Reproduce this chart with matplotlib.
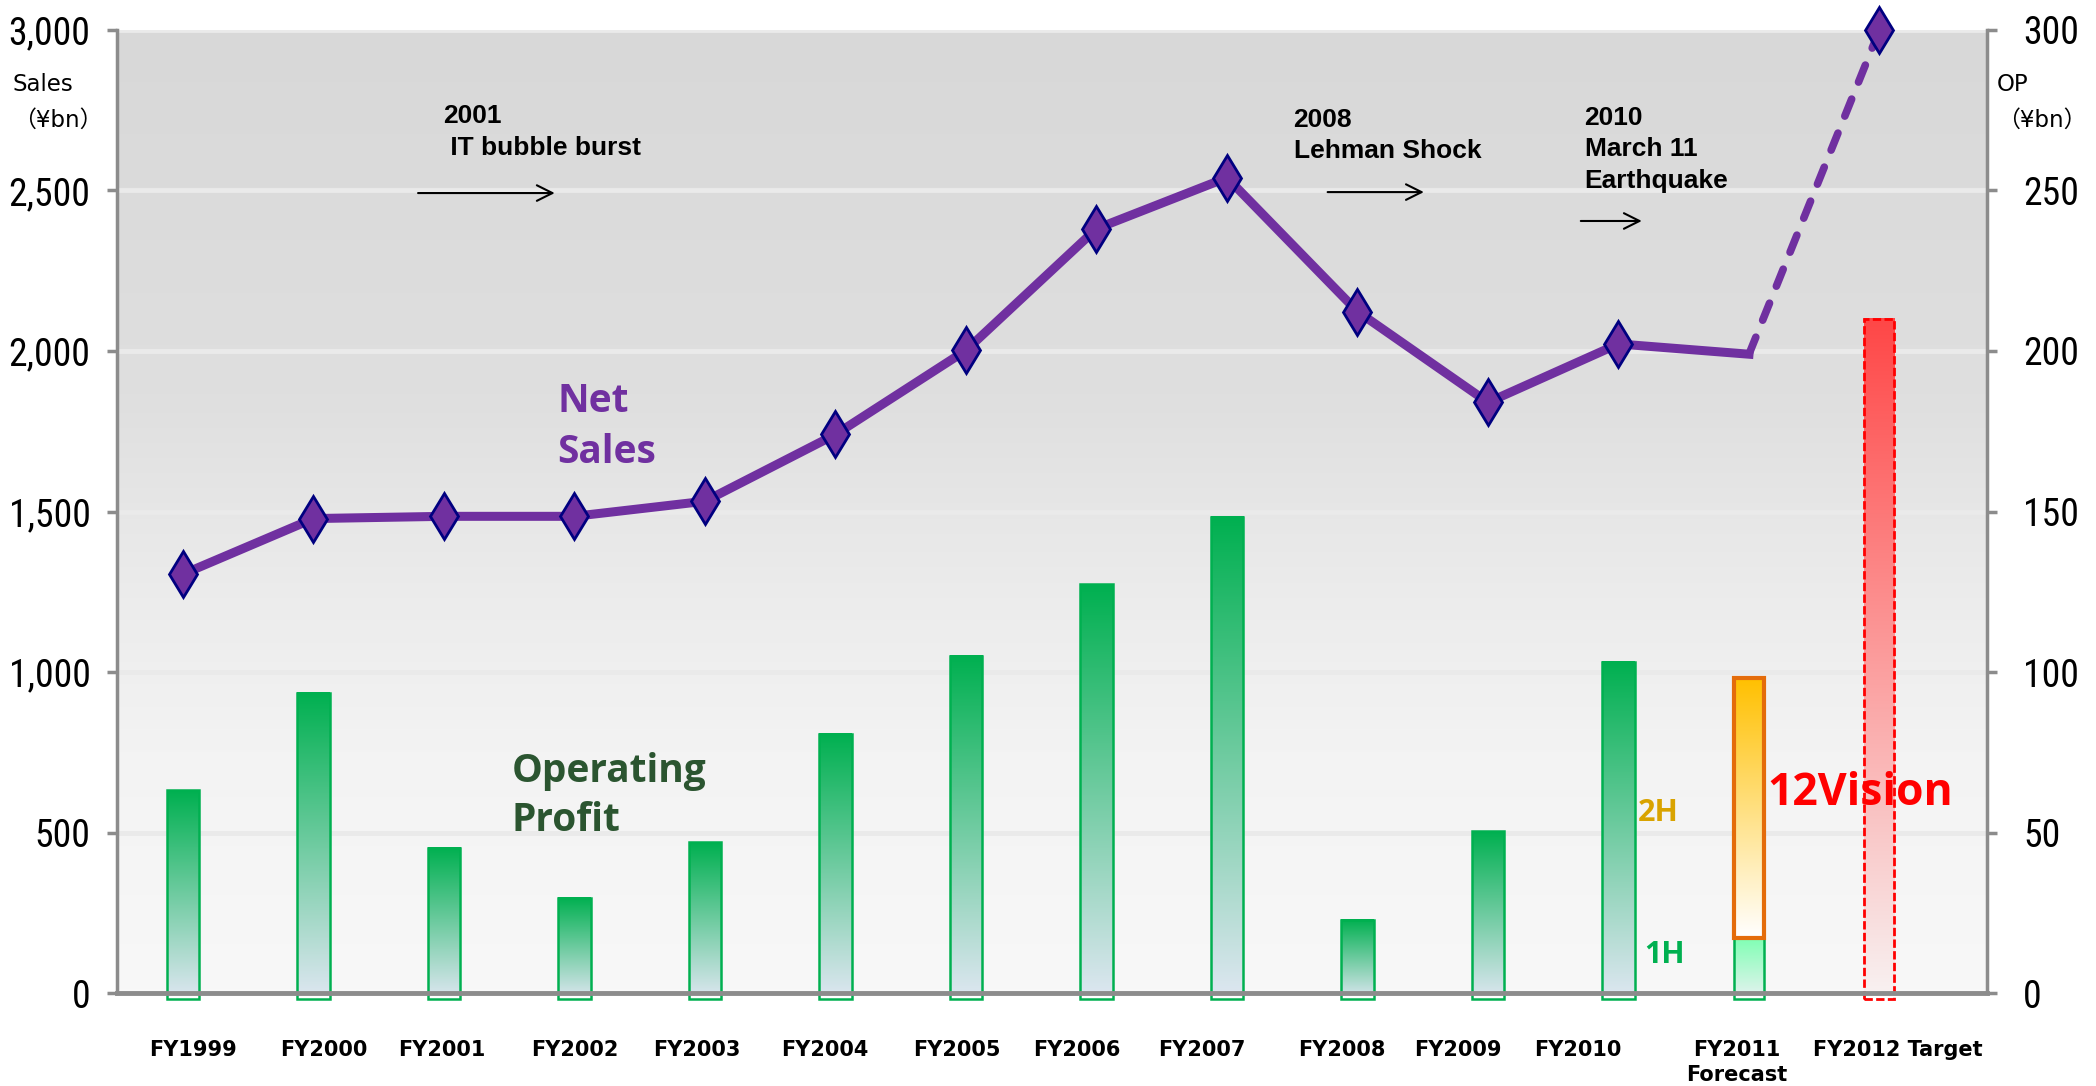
import numpy as np
import matplotlib.pyplot as plt
from matplotlib import font_manager as fm
from matplotlib.colors import LinearSegmentedColormap

years = ["FY1999", "FY2000", "FY2001", "FY2002", "FY2003", "FY2004", "FY2005",
         "FY2006", "FY2007", "FY2008", "FY2009", "FY2010", "FY2011\nForecast",
         "FY2012 Target"]
net_sales = [1305, 1478, 1485, 1485, 1532, 1740, 2002, 2381, 2540, 2123, 1840,
             2022, 1990, 3000]
op_profit = [63.2, 93.6, 45.3, 29.6, 47.0, 80.7, 105.0, 127.4, 148.3, 22.9, 50.4,
             103.2]
op_fy2011_1h = 17
op_fy2011_2h = 81
op_fy2012_target = 210

sales_ticks = [0, 500, 1000, 1500, 2000, 2500, 3000]
op_ticks = [0, 50, 100, 150, 200, 250, 300]

events = ["2001\n IT bubble burst", "2008\nLehman Shock", "2010\nMarch 11\nEarthquake"]

# the category labels sit a little off the bar centres in the original
label_shift = [0.08, 0.08, -0.02, 0, -0.06, -0.08, -0.07, -0.15, -0.19, -0.12,
               -0.23, -0.31, -0.09, 0.14]

PURPLE = "#7030A0"
GREEN = "#00B050"
GREY = "#8C8C8C"
CJK = ["DejaVu Sans", "Noto Sans CJK JP"]

# narrowest font we can find for the big axis numbers
narrow_path = fm.findfont(fm.FontProperties(
    family=["Liberation Sans Narrow", "Roboto Condensed", "DejaVu Sans"],
    stretch="condensed"))

fig = plt.figure(figsize=(20.96, 10.86), dpi=100)
ax = fig.add_axes([0.0558, 0.0856, 0.8922, 0.8868])
ax2 = ax.twinx()

# background gradient (grey at top, almost white at bottom)
fr = np.linspace(0, 1, 256)
g = np.interp(fr, [0, 0.25, 0.41, 0.62, 1.0], [248, 243, 236, 223, 216]) / 255
bg = np.stack([g, g, g], axis=-1)[:, None, :]
ax.imshow(bg, extent=[0, 1, 0, 1], transform=ax.transAxes, origin="lower",
          aspect="auto", zorder=-10)
ax.yaxis.grid(True, color="#EAEAEA", lw=3.5)

xs = np.arange(len(years))


def grad_fill(patch, top, bottom, z=1.5):
    x0, y0 = patch.get_x(), patch.get_y()
    w, h = patch.get_width(), patch.get_height()
    cmap = LinearSegmentedColormap.from_list("", [bottom, top])
    im = ax2.imshow(np.linspace(0, 1, 256).reshape(-1, 1), cmap=cmap,
                    extent=[x0, x0 + w, y0, y0 + h], origin="lower",
                    aspect="auto", zorder=z)
    im.set_clip_path(patch)
    im.set_clip_box(None)


# operating profit bars
bars = ax2.bar(xs[:12], np.array(op_profit) + 2, bottom=-2, width=0.25,
               fc="none", ec=GREEN, lw=1.8, zorder=2, clip_on=False)
for b in bars:
    grad_fill(b, GREEN, "#DFE7F2")

b1 = ax2.bar(xs[12], op_fy2011_1h + 2, bottom=-2, width=0.23, fc="none",
             ec=GREEN, lw=1.8, zorder=2, clip_on=False)[0]
grad_fill(b1, "#80FFB4", "#E8F2F2")
b2 = ax2.bar(xs[12], op_fy2011_2h, bottom=op_fy2011_1h, width=0.23, fc="none",
             ec="#E46C0A", lw=3, zorder=2)[0]
grad_fill(b2, "#FFC000", "#FFFFFF")
b3 = ax2.bar(xs[13], op_fy2012_target + 2, bottom=-2, width=0.23, fc="none",
             ec="#FF0000", lw=2, ls=(0, (3, 1.2)), zorder=2, clip_on=False)[0]
grad_fill(b3, "#FF4747", "#F8F2F2")

# net sales line: solid up to the forecast, dashed to the target
ax.plot(xs[:13], net_sales[:13], color=PURPLE, lw=6.5, zorder=3)
ax.plot(xs[12:], net_sales[12:], color=PURPLE, lw=5.5, ls=(0, (2.4, 2.4)),
        dash_capstyle="round", zorder=3)
ax.plot(xs, net_sales, ls="none", marker="d", ms=23, mfc=PURPLE, mec="#000080",
        mew=2, markevery=[i for i in range(len(xs)) if i != 12], zorder=4,
        clip_on=False)

ax.set_xlim(-0.506, 13.824)
ax.set_ylim(0, 3000)
ax2.set_ylim(0, 300)

ax.set_yticks(sales_ticks, labels=[f"{v:,}" for v in sales_ticks])
ax2.set_yticks(op_ticks, labels=[str(v) for v in op_ticks])
ax.tick_params(axis="y", length=7, width=2.5, color=GREY, pad=12)
ax2.tick_params(axis="y", length=7, width=2.5, color=GREY, pad=19)
ax.set_xticks(xs + np.array(label_shift), labels=years)
ax.tick_params(axis="x", length=0, pad=34)
for t in ax.get_xticklabels():
    t.set_fontsize(15)
    t.set_fontweight("bold")
    t.set_linespacing(1.3)

# size the axis numbers so "3,000" fills the left margin
num_size = 30
for t in ax.get_yticklabels() + ax2.get_yticklabels():
    t.set_fontproperties(fm.FontProperties(fname=narrow_path, size=num_size))
fig.canvas.draw()
w = ax.get_yticklabels()[-1].get_window_extent().width
num_size = min(40, num_size * 82 / w)
for t in ax.get_yticklabels() + ax2.get_yticklabels():
    t.set_fontsize(num_size)

for s in ["top", "right", "bottom"]:
    ax.spines[s].set_visible(False)
ax.spines["left"].set_color(GREY)
ax.spines["left"].set_linewidth(2.5)
for s in ["top", "left"]:
    ax2.spines[s].set_visible(False)
ax2.spines["right"].set_color(GREY)
ax2.spines["right"].set_linewidth(2.5)
ax2.spines["bottom"].set_color(GREY)
ax2.spines["bottom"].set_linewidth(3.5)

# event annotations
ev_txt = dict(fontsize=19, fontweight="bold", family="Liberation Sans",
              ha="left", va="top", linespacing=1.4)
ax.text(1.99, 2768, events[0], **ev_txt)
ax.text(8.51, 2758, events[1], **ev_txt)
ax.text(10.74, 2764, events[2], **ev_txt)
arr = dict(arrowstyle="->", color="black", lw=1.5, mutation_scale=28)
ax.annotate("", xy=(2.87, 2492), xytext=(1.78, 2492), arrowprops=arr)
ax.annotate("", xy=(9.53, 2495), xytext=(8.75, 2495), arrowprops=arr)
ax.annotate("", xy=(11.20, 2405), xytext=(10.69, 2405), arrowprops=arr)

ax.text(2.87, 1903, "Net\nSales", color=PURPLE, fontsize=28, fontweight="bold",
        family="Open Sans", ha="left", va="top", linespacing=1.4)
ax.text(2.52, 752, "Operating\nProfit", color="#2B5530", fontsize=28,
        fontweight="bold", family="Open Sans", ha="left", va="top",
        linespacing=1.35)
ax2.text(12.14, 58.6, "12Vision", color="#FF0000", fontsize=32, fontweight="bold",
         family="Open Sans", ha="left", va="baseline", zorder=5)
ax2.text(11.15, 53.6, "2H", color="#D9A300", fontsize=22, fontweight="bold",
         family="Open Sans", ha="left", va="baseline", zorder=5)
ax2.text(11.20, 9.3, "1H", color=GREEN, fontsize=22, fontweight="bold",
         family="Open Sans", ha="left", va="baseline", zorder=5)

fig.text(13 / 2096, 1 - 73 / 1086, "Sales\n（¥bn）", fontsize=16.5, family=CJK,
         ha="left", va="top", linespacing=1.7)
fig.text(1997 / 2096, 1 - 73 / 1086, "OP\n（¥bn）", fontsize=16.5, family=CJK,
         ha="left", va="top", linespacing=1.7)

fig.savefig("out.png", dpi=100)
